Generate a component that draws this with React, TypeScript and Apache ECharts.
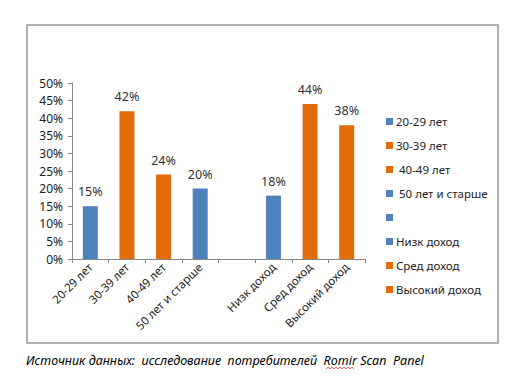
import React, { useEffect, useRef } from "react";
import * as echarts from "echarts";

const categories = ["20-29 лет", "30-39 лет", "40-49 лет", "50 лет и старше", "", "Низк доход", "Сред доход", "Высокий доход"];
const values: (number | null)[] = [15, 42, 24, 20, null, 18, 44, 38];
const colorKeys = ["b", "o", "o", "b", "b", "b", "o", "o"];
const legendLabels = ["20-29 лет", "30-39 лет", " 40-49 лет", " 50 лет и старше", "", "Низк доход", "Сред доход", "Высокий доход"];
const yTicks = [0, 5, 10, 15, 20, 25, 30, 35, 40, 45, 50];

const BLUE = "#4F81BD";
const ORANGE = "#E36C0A";
const FONT = "'Noto Sans', 'DejaVu Sans', sans-serif";

export default function App() {
  const ref = useRef<HTMLDivElement>(null);
  useEffect(() => {
    if (!ref.current) return;
    const chart = echarts.init(ref.current, null, { renderer: "svg" });
    const col = (k: string) => (k === "b" ? BLUE : ORANGE);
    const legendItems: any[] = [];
    legendLabels.forEach((name, i) => {
      const y = 118 + i * 24;
      legendItems.push({ type: "rect", shape: { x: 386, y: y, width: 7, height: 7 }, style: { fill: col(colorKeys[i]) } });
      legendItems.push({
        type: "text",
        x: 396,
        y: y + 3.5,
        style: { text: name, font: `11.5px ${FONT}`, fill: "#222", verticalAlign: "middle", align: "left" },
      });
    });
    const wave: number[][] = [];
    for (let i = 0; i <= 14; i++) wave.push([326 + i * 2, i % 2 === 0 ? 369 : 367]);
    chart.setOption({
      animation: false,
      grid: { left: 72, right: 162, top: 83, bottom: 133, containLabel: false },
      xAxis: {
        type: "category",
        data: categories,
        axisLine: { lineStyle: { color: "#888" } },
        axisTick: { show: true, alignWithLabel: false, length: 4, lineStyle: { color: "#888" } },
        axisLabel: { interval: 0, rotate: 45, fontSize: 11.5, fontFamily: FONT, color: "#222", margin: 6 },
      },
      yAxis: {
        type: "value",
        min: yTicks[0],
        max: yTicks[yTicks.length - 1],
        interval: 5,
        axisLine: { show: true, lineStyle: { color: "#888" } },
        axisTick: { show: true, length: 4, lineStyle: { color: "#888" } },
        splitLine: { show: false },
        axisLabel: { formatter: "{value}%", fontSize: 12, fontFamily: FONT, color: "#222", margin: 9 },
      },
      series: [
        {
          type: "bar",
          barWidth: 15,
          data: values.map((v, i) => ({ value: v, itemStyle: { color: col(colorKeys[i]) } })),
          label: {
            show: true,
            position: "top",
            distance: 8,
            formatter: (p: any) => (p.value == null ? "" : `${p.value}%`),
            fontSize: 12.5,
            fontFamily: FONT,
            color: "#333",
          },
        },
      ],
      graphic: [
        {
          type: "rect",
          shape: { x: 27, y: 25, width: 471, height: 318 },
          style: { fill: "none", stroke: "#999", lineWidth: 1.5 },
        },
        ...legendItems,
        {
          type: "text",
          x: 26,
          y: 360,
          style: {
            text: "Источник данных:  исследование  потребителей  Romir Scan  Panel",
            font: `italic 12.5px ${FONT}`,
            fill: "#000",
            verticalAlign: "middle",
          },
        },
        {
          type: "polyline",
          shape: { points: wave },
          style: { stroke: "#E04040", lineWidth: 0.8, fill: "none" },
        },
      ],
    });
    return () => chart.dispose();
  }, []);
  return <div ref={ref} style={{ position: "absolute", left: 0, top: 0, width: 527, height: 392 }} />;
}
